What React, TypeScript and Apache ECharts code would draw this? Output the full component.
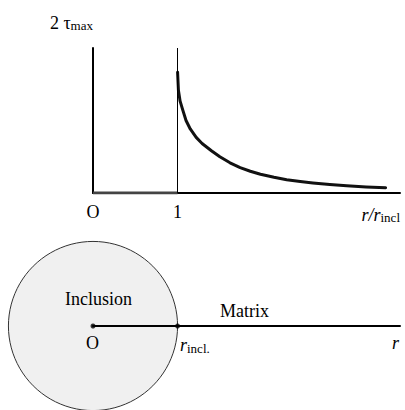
import React, { useEffect, useRef } from "react";
import * as echarts from "echarts";

// Normalised radius r / r_incl and the shear stress 2·τmax (relative to its value at the interface)
const insideRatio = [0, 1];
const insideTau = [0, 0];
const ratio = [1.0, 1.01, 1.03, 1.06, 1.1, 1.15, 1.22, 1.29, 1.4, 1.5, 1.62, 1.74, 1.86, 1.98, 2.14, 2.29, 2.45, 2.6, 2.8, 3.0, 3.23, 3.46];
const tau = [1.0, 0.85, 0.76, 0.69, 0.6, 0.53, 0.46, 0.41, 0.35, 0.3, 0.25, 0.21, 0.18, 0.155, 0.13, 0.11, 0.095, 0.083, 0.07, 0.06, 0.05, 0.043];

// Tick labels on the r / r_incl axis
const tickValues = [0, 1];
const tickLabels = ["O", "1"];

// Sketch of the inclusion: centre and radius in units of r_incl
const inclusionCentre = [0, 0];
const inclusionRadius = 1;
const markedPoints = [
  [0, 0],
  [1, 0],
];

const FONT = "Liberation Serif";

export default function App() {
  const ref = useRef<HTMLDivElement>(null);

  useEffect(() => {
    document.body.style.margin = "0";
    if (!ref.current) return;
    const chart = echarts.init(ref.current, null, { renderer: "svg" });

    const axisBase = {
      type: "value" as const,
      min: 0,
      max: 3.63,
      interval: 1,
      splitLine: { show: false },
      axisTick: { show: false },
    };

    chart.setOption({
      animation: false,
      backgroundColor: "#fff",
      grid: [
        { left: 93, right: 5, top: 48, height: 145 },
        // same horizontal scale as the plot above; 0 sits at y = 326
        { left: 93, right: 5, top: 243.1, height: 165.8 },
      ],
      xAxis: [
        {
          ...axisBase,
          gridIndex: 0,
          axisLine: { lineStyle: { color: "#000", width: 2 } },
          axisLabel: {
            margin: 10,
            fontFamily: FONT,
            fontSize: 18,
            color: "#000",
            showMaxLabel: false,
            formatter: (v: number) => {
              const i = tickValues.indexOf(v);
              return i >= 0 ? tickLabels[i] : "";
            },
          },
          name: "{i|r/r}{s|incl}",
          nameLocation: "end",
          nameGap: 0,
          nameTextStyle: {
            align: "right",
            verticalAlign: "top",
            padding: [12, 0, 0, 0],
            rich: {
              i: { fontFamily: FONT, fontSize: 18, fontStyle: "italic", color: "#000" },
              s: { fontFamily: FONT, fontSize: 13, color: "#000", padding: [6, 0, 0, 0] },
            },
          },
        },
        {
          ...axisBase,
          gridIndex: 1,
          z: 5,
          axisLine: { onZero: true, lineStyle: { color: "#000", width: 2 } },
          axisLabel: { show: false },
        },
      ],
      yAxis: [
        {
          type: "value",
          gridIndex: 0,
          min: 0,
          max: 1.2,
          splitLine: { show: false },
          axisTick: { show: false },
          axisLabel: { show: false },
          axisLine: { lineStyle: { color: "#000", width: 2 } },
          name: "{a|2 τ}{b|max}",
          nameLocation: "end",
          nameGap: 16,
          nameTextStyle: {
            align: "right",
            rich: {
              a: { fontFamily: FONT, fontSize: 18, color: "#000" },
              b: { fontFamily: FONT, fontSize: 13, color: "#000", padding: [6, 0, 0, 0] },
            },
          },
        },
        {
          type: "value",
          gridIndex: 1,
          min: -0.98,
          max: 0.98,
          show: false,
        },
      ],
      series: [
        {
          type: "line",
          xAxisIndex: 0,
          yAxisIndex: 0,
          data: insideRatio.map((r, i) => [r, insideTau[i]]),
          symbol: "none",
          lineStyle: { color: "#444", width: 3 },
          z: 3,
        },
        {
          type: "line",
          xAxisIndex: 0,
          yAxisIndex: 0,
          data: ratio.map((r, i) => [r, tau[i]]),
          symbol: "none",
          smooth: false,
          lineStyle: { color: "#111", width: 3, join: "round", cap: "round" },
          markLine: {
            silent: true,
            symbol: "none",
            label: { show: false },
            lineStyle: { color: "#000", width: 1, type: "solid" },
            data: [{ xAxis: 1 }],
          },
        },
        {
          type: "custom",
          xAxisIndex: 1,
          yAxisIndex: 1,
          clip: false,
          z: 1,
          data: [[inclusionCentre[0], inclusionCentre[1], inclusionRadius]],
          renderItem: (params: any, api: any) => {
            const c = api.coord([api.value(0), api.value(1)]);
            const e = api.coord([api.value(0) + api.value(2), api.value(1)]);
            return {
              type: "circle",
              shape: { cx: c[0], cy: c[1], r: e[0] - c[0] },
              style: { fill: "#f0f0f0", stroke: "#333", lineWidth: 1 },
            };
          },
        },
        {
          type: "scatter",
          xAxisIndex: 1,
          yAxisIndex: 1,
          z: 6,
          data: markedPoints,
          symbolSize: 5,
          itemStyle: { color: "#000" },
        },
      ],
      graphic: [
        {
          type: "text",
          left: 65,
          top: 290,
          z: 20,
          style: { text: "Inclusion", font: `18px "${FONT}"`, fill: "#000" },
        },
        {
          type: "text",
          left: 220,
          top: 302,
          z: 20,
          style: { text: "Matrix", font: `18px "${FONT}"`, fill: "#000" },
        },
        {
          type: "text",
          left: 86,
          top: 334,
          z: 20,
          style: { text: "O", font: `18px "${FONT}"`, fill: "#000" },
        },
        {
          type: "text",
          left: 180,
          top: 336,
          z: 20,
          style: {
            text: "{i|r}{s|incl.}",
            rich: {
              i: { fontFamily: FONT, fontSize: 18, fontStyle: "italic", fill: "#000" },
              s: { fontFamily: FONT, fontSize: 13, fill: "#000", padding: [6, 0, 0, 0] },
            },
          },
        },
        {
          type: "text",
          left: 392,
          top: 334,
          z: 20,
          style: { text: "r", font: `italic 18px "${FONT}"`, fill: "#000" },
        },
      ],
    });

    return () => chart.dispose();
  }, []);

  return <div ref={ref} style={{ width: 405, height: 410 }} />;
}
